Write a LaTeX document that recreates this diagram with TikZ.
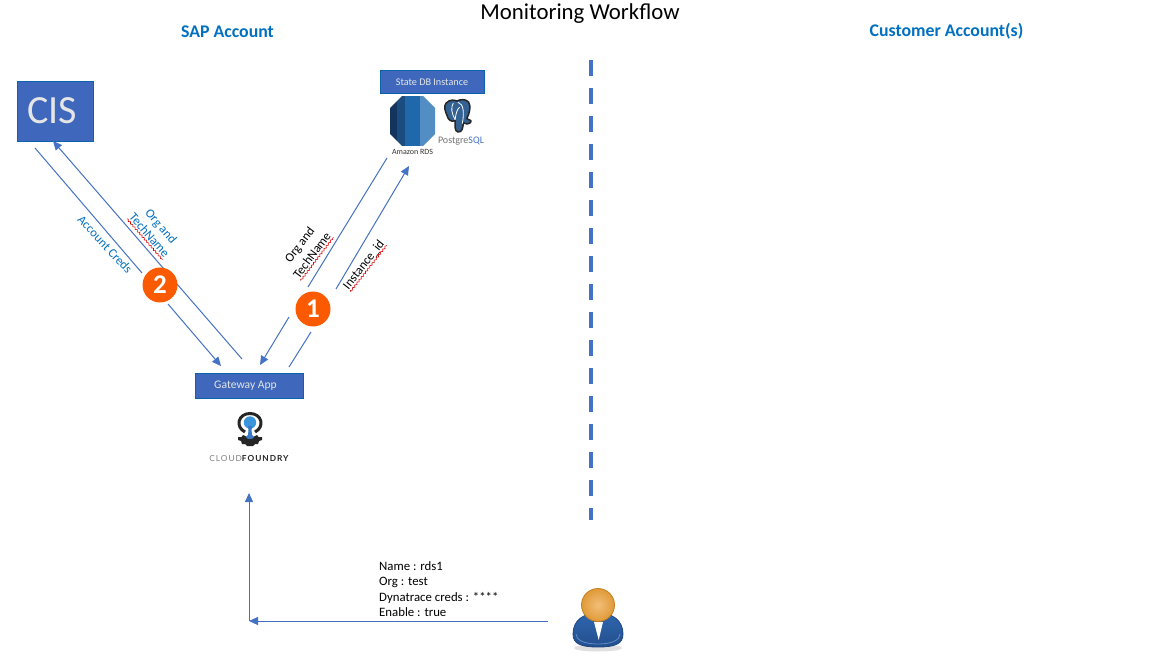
\documentclass[tikz,border=0pt]{standalone}
\usepackage{fontspec}
\setmainfont{Carlito}
\newfontfamily\cffont[LetterSpace=12]{Lato}
\usetikzlibrary{arrows.meta,decorations.pathmorphing}
\definecolor{boxblue}{HTML}{3F68BD}
\definecolor{boxedge}{HTML}{0B62AE}
\definecolor{linkblue}{HTML}{4472C4}
\definecolor{headblue}{HTML}{0070C0}
\definecolor{badge}{HTML}{FB5A00}
\definecolor{rdsa}{HTML}{13345C}
\definecolor{rdsb}{HTML}{1A4C80}
\definecolor{rdsc}{HTML}{1F68AC}
\definecolor{rdsd}{HTML}{528EC4}
\definecolor{pgblue}{HTML}{336192}
\definecolor{cflight}{HTML}{3A96DC}
\definecolor{cfmid}{HTML}{3A78C8}
\definecolor{usertop}{HTML}{2F66AE}
\definecolor{userbot}{HTML}{234F8E}
\definecolor{userrim}{HTML}{1E4682}
\definecolor{userlite}{HTML}{5F8CC4}
\definecolor{userhead}{HTML}{E09A38}
\definecolor{userheadlite}{HTML}{F2BE78}
\definecolor{useredge}{HTML}{C47F1E}
\tikzset{
  link/.style={draw=linkblue,line width=1pt},
  arr/.style={link,-{Triangle[length=9pt,width=8pt]}},
  bluebox/.style={draw=boxedge,fill=boxblue,line width=1pt,text=white!90!black,inner sep=0pt,anchor=north west},
  head/.style={text=headblue,font=\fontsize{17.8}{20}\selectfont\bfseries,inner sep=0pt},
  lab/.style={font=\fontsize{12.8}{15}\selectfont,inner sep=0pt},
  rotlab/.style={font=\fontsize{12.6}{15}\selectfont,inner sep=0pt,text height=9pt,text depth=2pt},
  bluelab/.style={rotlab,text=headblue},
  badgenode/.style={circle,fill=badge,text=white,minimum size=35pt,inner sep=0pt,font=\fontsize{27}{27}\selectfont\bfseries},
  squiggle/.style={draw=red!85!black,line width=.6pt,decorate,decoration={snake,amplitude=.8pt,segment length=3.5pt}},
}
\begin{document}
\begin{tikzpicture}[x=1pt,y=-1pt]
\useasboundingbox (0,0) rectangle (1160,668);
\fill[white] (0,0) rectangle (1160,668);

\node[inner sep=0pt,font=\fontsize{22.8}{25}\selectfont] (title) at (580,14) {Monitoring Workflow};
\node[head] (sap) at (227.5,32) {SAP Account};
\node[head] (cust) at (946.5,31) {Customer Account(s)};

\node[bluebox,minimum width=76pt,minimum height=60pt,font=\fontsize{40}{40}\selectfont] (cis) at (17,81) {\hspace*{-7pt}\raisebox{1.5pt}{CIS}};
\node[bluebox,minimum width=104pt,minimum height=23pt,font=\fontsize{10.2}{12}\selectfont] (state) at (380,70) {\hspace*{-1pt}State DB Instance};
\node[bluebox,minimum width=108pt,minimum height=25pt,font=\fontsize{11.6}{14}\selectfont] (gw) at (195,373) {\hspace*{-8pt}\raisebox{-.8pt}{Gateway App}};

% dashed divider
\coordinate (dtop) at (591,60);
\coordinate (dbot) at (591,520);
\draw[linkblue,line width=4pt,dash pattern=on 16pt off 12pt] (dtop) -- (dbot);

% connector end points
\coordinate (ac1) at (35,148);   \coordinate (ac2) at (142,273);
\coordinate (ac3) at (168,304);  \coordinate (ac4) at (221,366);
\coordinate (on1) at (242,359);  \coordinate (on2) at (53,141);
\coordinate (oa1) at (387,158);  \coordinate (oa2) at (308,287);
\coordinate (oa3) at (289,317);  \coordinate (oa4) at (260,365);
\coordinate (ii1) at (289,367);  \coordinate (ii2) at (311,332);
\coordinate (ii3) at (336,289);  \coordinate (ii4) at (409,166);
\coordinate (ub1) at (548,621);  \coordinate (ub2) at (249,621);
\coordinate (ub3) at (249,493);

\draw[link] (ac1) -- (ac2);
\draw[arr]  (ac3) -- (ac4);
\draw[arr]  (on1) -- (on2);
\draw[link] (oa1) -- (oa2);
\draw[arr]  (oa3) -- (oa4);
\draw[link] (ii1) -- (ii2);
\draw[arr]  (ii3) -- (ii4);
\draw[arr]  (ub1) -- (ub2);
\draw[arr]  (ub2) -- (ub3);

\node[badgenode] (b2) at (160,285) {2};
\node[badgenode] (b1) at (313,309) {1};

% rotated labels
\node[bluelab,rotate=-49] (l1) at (160.7,226.7) {Org and};
\node[bluelab,rotate=-49] (l2) at (149,235.5) {TechName};
\node[bluelab,rotate=-47] (l3) at (104.5,245) {Account Creds};
\node[rotlab,rotate=53] (l4) at (300,245) {Org and};
\node[rotlab,rotate=53] (l5) at (312.5,255.5) {TechName};
\node[rotlab,rotate=52] (l6) at (364,265) {Instance\_id};
\draw[squiggle] (l2.south west) -- (l2.south east);
\draw[squiggle] (l5.south west) -- (l5.south east);
\draw[squiggle] (l6.south west) -- (l6.south east);

% parameters text
\node[lab,anchor=base west] (n1) at (379,570) {Name : rds1};
\node[lab,anchor=base west] (n2) at (379,585.5) {Org : test};
\node[lab,anchor=base west] (n3) at (379,601) {Dynatrace creds : ****};
\node[lab,anchor=base west] (n4) at (379,616) {Enable : true};

% Amazon RDS icon
\begin{scope}
\clip (402,96) -- (423,96) -- (435,108) -- (435,134) -- (423,146) -- (402,146) -- (390,134) -- (390,108) -- cycle;
\fill[rdsa] (390,96) rectangle (397,147);
\fill[rdsb] (397,96) rectangle (405,147);
\fill[rdsc] (405,96) rectangle (420,147);
\fill[rdsd] (420,96) rectangle (436,147);
\end{scope}
\node[inner sep=0pt,font=\fontsize{8}{9}\selectfont,text=black!80] (rds) at (412.5,151.7) {Amazon RDS};

% PostgreSQL icon
\begin{scope}[shift={(442.5,99)},xscale=.9,yscale=1.03]
\draw[black!85,line width=1.5pt,fill=pgblue,line join=round]
  (4,4) .. controls (8,0) and (14,1) .. (16,2) .. controls (20,0) and (26,0) .. (29,3)
  .. controls (32,7) and (30,14) .. (27,19) .. controls (30,21) and (33,20) .. (31,23)
  .. controls (28,25) and (25,24) .. (23,23) .. controls (23,27) and (22,33) .. (17,32)
  .. controls (13,31) and (14,25) .. (14,21) .. controls (10,23) and (6,20) .. (5,16)
  .. controls (3,12) and (1,7) .. (4,4) -- cycle;
\draw[white,line width=.8pt] (12,4) .. controls (9,8) and (10,14) .. (14,20);
\draw[white,line width=.8pt] (17,3) .. controls (24,5) and (24,14) .. (22,24);
\draw[white,line width=.8pt] (14,20) .. controls (15,14) and (16,10) .. (19,8);
\end{scope}
\node[inner sep=0pt,font=\fontsize{10}{11}\selectfont] (pg) at (461,141) {\textcolor{black!55}{Postgre}\textcolor{linkblue}{SQL}};

% Cloud Foundry icon
\begin{scope}[shift={(250,0)}]
\draw[black!85,line width=3pt] (-5,432) .. controls (-15,427) and (-12,413.5) .. (0,413.5) .. controls (12,413.5) and (15,427) .. (5,432);
\fill[black!85] (-12,437) -- (-8.5,437) -- (-7,435) -- (-3,437) -- (3,437) -- (7,435) -- (8.5,437) -- (12,437) -- (12,440) -- (9,441) -- (8,444) -- (5,444) -- (3,446) -- (-3,446) -- (-5,444) -- (-8,444) -- (-9,441) -- (-12,440) -- cycle;
\fill[cflight] (0,422.5) circle (6.2pt);
\fill[cfmid] (-2,426) .. controls (-1.5,430) and (-1.5,433) .. (-2,435) .. controls (-5,437) and (-4,439) .. (0,439) .. controls (4,439) and (5,437) .. (2,435) .. controls (1.5,433) and (1.5,430) .. (2,426) -- cycle;
\end{scope}
\node[inner sep=0pt,font=\fontsize{8.3}{10}\cffont] (cf) at (249.5,458.3) {\textcolor{black!50}{CLOUD}\textcolor{black!85}{\textbf{FOUNDRY}}};

% user icon
\fill[black!12] (598,648) ellipse (24pt and 3.5pt);
\shade[top color=usertop,bottom color=userbot,draw=userrim,line width=.8pt]
  (573,634) .. controls (573,620) and (584,613) .. (598,613) .. controls (612,613) and (623,620) .. (623,634)
  .. controls (623,644) and (615,647) .. (598,647) .. controls (581,647) and (573,644) .. (573,634) -- cycle;
\draw[userlite,line width=.8pt] (576,634) .. controls (576,640) and (584,644) .. (598,644) .. controls (612,644) and (620,640) .. (620,634);
\fill[white] (594,622) -- (603,622) -- (598.7,640) -- cycle;
\shade[inner color=userheadlite,outer color=userhead,draw=useredge,line width=.8pt] (598,605) circle (16.5pt);
\end{tikzpicture}
\end{document}
